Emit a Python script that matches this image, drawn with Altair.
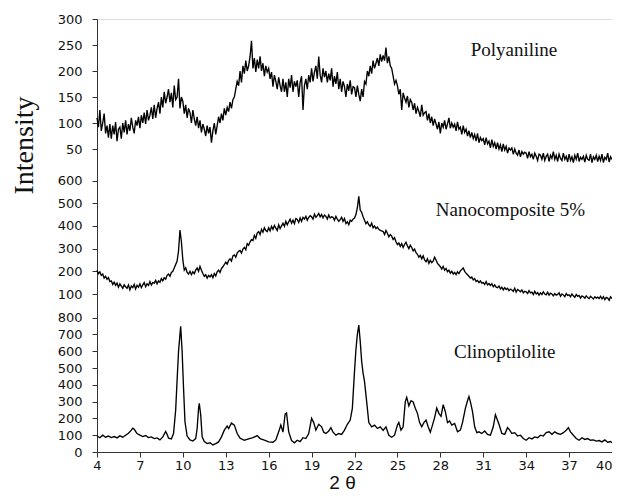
import altair as alt
import pandas as pd

# ---------------- data ----------------
# Polyaniline and Nanocomposite scans: 2theta = 4.0, 4.1, ... 40.0 (step 0.1)
poly_vals = [
    110, 92, 125, 85, 100, 118, 80, 95, 72, 98,    # 4.x
    70, 95, 78, 102, 65, 88, 92, 70, 100, 82,      # 5.x
    105, 78, 98, 85, 110, 92, 80, 105, 95, 112,    # 6.x
    90, 115, 100, 120, 98, 125, 105, 115, 130, 108,  # 7.x
    135, 110, 128, 140, 118, 150, 130, 160, 138, 150,  # 8.x
    165, 140, 158, 130, 172, 145, 150, 185, 128, 150,  # 9.x
    142, 118, 135, 110, 128, 120, 100, 125, 108, 95,   # 10.x
    112, 90, 105, 82, 98, 88, 75, 95, 80, 92,          # 11.x
    62, 85, 100, 78, 95, 112, 100, 118, 105, 128,      # 12.x
    115, 130, 122, 140, 128, 145, 150, 165, 180, 172,  # 13.x
    200, 178, 210, 195, 220, 200, 210, 228, 258, 205,  # 14.x
    225, 198, 222, 205, 228, 200, 215, 190, 210, 198,  # 15.x
    205, 185, 198, 170, 192, 180, 165, 188, 172, 160,  # 16.x
    185, 160, 178, 150, 185, 168, 192, 160, 180, 170,  # 17.x
    182, 150, 178, 190, 125, 172, 185, 165, 192, 178,  # 18.x
    205, 180, 198, 210, 185, 228, 192, 178, 205, 188,  # 19.x
    200, 178, 195, 182, 205, 170, 190, 175, 198, 165,  # 20.x
    185, 160, 180, 170, 150, 175, 162, 182, 155, 170,  # 21.x
    168, 150, 172, 155, 142, 165, 150, 180, 175, 200,  # 22.x
    190, 210, 195, 220, 205, 215, 225, 210, 232, 218,  # 23.x
    230, 220, 245, 215, 228, 210, 205, 190, 175, 182,  # 24.x
    172, 155, 165, 125, 158, 148, 140, 152, 130, 145,  # 25.x
    140, 125, 138, 118, 130, 122, 112, 135, 115, 120,  # 26.x
    122, 105, 118, 100, 112, 95, 108, 98, 88, 102,     # 27.x
    80, 100, 92, 105, 88, 98, 110, 90, 100, 92,        # 28.x
    98, 85, 102, 88, 92, 78, 95, 82, 88, 75,           # 29.x
    85, 72, 82, 70, 78, 65, 80, 62, 72, 66,            # 30.x
    70, 58, 72, 60, 65, 52, 68, 55, 62, 50,            # 31.x
    62, 50, 58, 45, 60, 48, 55, 42, 52, 48,            # 32.x
    52, 40, 50, 42, 38, 48, 35, 45, 40, 44,            # 33.x
    42, 32, 45, 35, 40, 30, 42, 36, 28, 40,            # 34.x
    38, 30, 42, 28, 36, 40, 26, 38, 32, 45,            # 35.x
    30, 38, 26, 40, 32, 28, 42, 30, 36, 25,            # 36.x
    40, 28, 35, 24, 38, 30, 42, 26, 34, 30,            # 37.x
    36, 25, 38, 30, 28, 40, 24, 35, 30, 38,            # 38.x
    26, 36, 28, 40, 24, 34, 30, 42, 25, 35,            # 39.x
    30,                                                # 40.0
]

nano_vals = [
    205, 190, 198, 182, 188, 170, 178, 165, 172, 155,  # 4.x
    158, 142, 152, 138, 148, 130, 145, 135, 125, 140,  # 5.x
    132, 125, 140, 118, 135, 128, 142, 122, 138, 130,  # 6.x
    145, 128, 140, 150, 132, 145, 138, 155, 140, 150,  # 7.x
    148, 160, 145, 158, 152, 168, 158, 172, 165, 182,  # 8.x
    188, 178, 195, 200, 215, 230, 245, 290, 382, 330,  # 9.x
    250, 205, 215, 195, 188, 200, 185, 198, 190, 205,  # 10.x
    215, 200, 222, 205, 190, 178, 185, 170, 182, 175,  # 11.x
    185, 172, 190, 180, 198, 205, 195, 212, 220, 230,  # 12.x
    240, 232, 248, 255, 245, 268, 272, 262, 280, 288,  # 13.x
    292, 280, 298, 305, 295, 322, 315, 330, 340, 335,  # 14.x
    358, 345, 368, 375, 362, 385, 372, 392, 380, 375,  # 15.x
    392, 378, 398, 385, 402, 390, 380, 405, 388, 400,  # 16.x
    412, 398, 420, 405, 418, 430, 412, 425, 410, 432,  # 17.x
    428, 415, 435, 420, 438, 430, 442, 425, 438, 445,  # 18.x
    440, 430, 452, 438, 445, 455, 440, 450, 435, 448,  # 19.x
    442, 430, 448, 435, 440, 438, 425, 442, 430, 420,  # 20.x
    428, 438, 420, 432, 410, 418, 405, 425, 420, 430,  # 21.x
    435, 450, 480, 530, 470, 460, 440, 425, 410, 418,  # 22.x
    405, 398, 412, 392, 400, 388, 395, 385, 380, 378,  # 23.x
    375, 362, 380, 368, 352, 362, 355, 340, 348, 330,  # 24.x
    318, 325, 310, 322, 305, 318, 328, 312, 300, 315,  # 25.x
    305, 290, 298, 282, 275, 262, 270, 255, 268, 250,  # 26.x
    242, 255, 235, 248, 238, 245, 262, 250, 235, 228,  # 27.x
    220, 210, 222, 205, 212, 198, 205, 192, 200, 188,  # 28.x
    195, 185, 198, 190, 202, 208, 215, 200, 192, 185,  # 29.x
    178, 170, 175, 162, 168, 155, 160, 150, 158, 148,  # 30.x
    150, 142, 155, 140, 146, 138, 145, 132, 140, 130,  # 31.x
    128, 135, 122, 130, 118, 128, 120, 125, 115, 122,  # 32.x
    118, 112, 125, 108, 120, 115, 110, 118, 105, 112,  # 33.x
    110, 102, 115, 105, 108, 98, 112, 100, 106, 95,    # 34.x
    105, 98, 110, 100, 96, 108, 95, 104, 100, 92,      # 35.x
    102, 95, 98, 105, 90, 100, 96, 88, 102, 94,        # 36.x
    96, 88, 100, 92, 85, 98, 90, 94, 82, 92,           # 37.x
    88, 82, 92, 85, 80, 90, 84, 78, 88, 82,            # 38.x
    86, 80, 90, 78, 88, 75, 85, 82, 72, 88,            # 39.x
    80,                                                # 40.0
]

clino_x = [
    4.0, 4.2, 4.4, 4.6, 4.8, 5.0, 5.2, 5.4, 5.6, 5.8, 6.0, 6.2, 6.4, 6.5, 6.6, 6.8,
    7.0, 7.2, 7.4, 7.6, 7.8, 8.0, 8.2, 8.4, 8.6, 8.8, 8.9, 9.0, 9.2, 9.35, 9.5, 9.6,
    9.7, 9.8, 9.85, 9.95, 10.05, 10.15, 10.3, 10.5, 10.7, 10.9, 11.0, 11.1, 11.15,
    11.25, 11.35, 11.5, 11.7, 11.9, 12.1, 12.3, 12.5, 12.7, 12.9, 13.1, 13.2, 13.4,
    13.6, 13.8, 14.0, 14.3, 14.6, 14.9, 15.2, 15.4, 15.7, 16.0, 16.3, 16.5, 16.7,
    16.85, 17.0, 17.15, 17.25, 17.4, 17.6, 17.8, 18.0, 18.2, 18.4, 18.6, 18.8, 19.0,
    19.15, 19.3, 19.5, 19.7, 19.85, 20.0, 20.2, 20.35, 20.5, 20.7, 20.9, 21.1, 21.3,
    21.5, 21.7, 21.85, 22.0, 22.1, 22.2, 22.3, 22.4, 22.5, 22.6, 22.7, 22.85, 23.0,
    23.2, 23.4, 23.6, 23.8, 24.0, 24.2, 24.4, 24.6, 24.8, 25.0, 25.1, 25.25, 25.4,
    25.55, 25.65, 25.8, 25.95, 26.1, 26.25, 26.4, 26.55, 26.7, 26.85, 27.0, 27.15,
    27.3, 27.45, 27.6, 27.75, 27.9, 28.05, 28.2, 28.35, 28.5, 28.65, 28.8, 29.0,
    29.2, 29.4, 29.55, 29.75, 29.9, 30.0, 30.1, 30.25, 30.4, 30.55, 30.7, 30.9,
    31.1, 31.3, 31.5, 31.7, 31.85, 31.95, 32.1, 32.3, 32.5, 32.7, 32.85, 33.0, 33.2,
    33.4, 33.6, 33.8, 34.0, 34.2, 34.4, 34.6, 34.8, 35.0, 35.2, 35.4, 35.6, 35.8,
    36.0, 36.2, 36.4, 36.6, 36.8, 36.95, 37.1, 37.3, 37.5, 37.7, 37.9, 38.1, 38.3,
    38.5, 38.7, 38.9, 39.1, 39.3, 39.5, 39.7, 39.9, 40.0,
]
clino_y = [
    95, 85, 100, 88, 95, 86, 92, 84, 96, 88, 100, 112, 130, 142, 135, 110,
    100, 92, 98, 86, 90, 80, 84, 72, 90, 122, 105, 82, 78, 110, 250, 430,
    600, 700, 748, 600, 380, 180, 95, 72, 65, 80, 140, 260, 290,
    220, 90, 62, 50, 55, 42, 50, 60, 90, 130, 155, 140, 172,
    160, 110, 82, 70, 78, 85, 98, 80, 70, 60, 58, 72, 120,
    160, 118, 225, 232, 120, 68, 55, 70, 62, 85, 80, 110, 200,
    175, 130, 165, 150, 118, 110, 125, 145, 118, 100, 110, 105, 130,
    165, 190, 260, 480, 610, 700, 755, 660, 540, 470, 420, 300, 175,
    150, 160, 140, 150, 128, 150, 100, 88, 100, 160, 175, 130, 150,
    300, 325, 275, 305, 298, 260, 230, 175, 150, 175, 190, 150,
    118, 160, 205, 262, 230, 212, 282, 240, 175, 185, 160, 170,
    120, 130, 175, 260, 305, 330, 300, 240, 150, 115, 120, 110,
    125, 105, 100, 150, 222, 200, 165, 110, 105, 145, 130, 110, 115,
    95, 100, 80, 70, 85, 78, 90, 85, 100, 95, 115, 120, 105,
    120, 110, 105, 115, 130, 145, 120, 100, 80, 70, 85, 75, 80,
    70, 72, 65, 68, 60, 72, 58, 62, 55,
]

x_ticks = [4, 7, 10, 13, 16, 19, 22, 25, 28, 31, 34, 37, 40]
clino_ticks = [0, 100, 200, 300, 400, 500, 600, 700, 800]
nano_ticks = [100, 200, 300, 400, 500, 600]
poly_ticks = [50, 100, 150, 200, 250, 300]

labels = ["Polyaniline", "Nanocomposite 5%", "Clinoptilolite"]
label_x = [33.15, 32.9, 32.5]
label_value = [240, 470, 595]

# ---------------- layout of the three stacked panels ----------------
# series -> (plot position of base value, plot units per intensity unit, base value)
PANELS = {
    "Clinoptilolite": (0.0, 0.168, 0),
    "Nanocomposite 5%": (158.0, 0.227, 100),
    "Polyaniline": (303.0, 0.52, 50),
}
PLOT_W = 515
PLOT_H = 433


def pos_expr():
    parts = []
    for name, (off, k, base) in PANELS.items():
        parts.append(f"datum.series === '{name}' ? {off} + (datum.value - {base}) * {k}")
    return " : ".join(parts) + " : 0"


grid_x = [round(4.0 + 0.1 * i, 1) for i in range(361)]

rows = []
for x, v in zip(grid_x, poly_vals):
    rows.append({"x": x, "value": v, "series": "Polyaniline"})
for x, v in zip(grid_x, nano_vals):
    rows.append({"x": x, "value": v, "series": "Nanocomposite 5%"})
for x, v in zip(clino_x, clino_y):
    rows.append({"x": x, "value": v, "series": "Clinoptilolite"})
df = pd.DataFrame(rows)

ann = pd.DataFrame({"label": labels, "x": label_x, "value": label_value, "series": labels})

tick_pos = []
for name, ticks in [("Clinoptilolite", clino_ticks), ("Nanocomposite 5%", nano_ticks), ("Polyaniline", poly_ticks)]:
    off, k, base = PANELS[name]
    tick_pos += [round(off + (t - base) * k, 3) for t in ticks]

label_expr = (
    "datum.value < 150 ? format(datum.value / 0.168, '.0f') : "
    "datum.value < 290 ? format(100 + (datum.value - 158) / 0.227, '.0f') : "
    "format(50 + (datum.value - 303) / 0.52, '.0f')"
)

x_enc = alt.X(
    "x:Q",
    scale=alt.Scale(domain=[4, 40], nice=False, zero=False),
    axis=alt.Axis(
        values=x_ticks, title="2 θ", grid=False, tickSize=5, labelPadding=2,
        labelFont="DejaVu Sans", labelFontSize=13, labelColor="#111",
        labelOverlap=False, labelFlush=False,
        labelAlign=alt.condition("datum.value == 40", alt.value("right"), alt.value("center")),
        titleFont="Liberation Sans", titleFontSize=19, titleFontWeight="normal",
        titleColor="#111", titlePadding=1, titleX=245,
        domainColor="#333", tickColor="#333",
    ),
)
y_enc = alt.Y(
    "pos:Q",
    scale=alt.Scale(domain=[0, PLOT_H], nice=False, zero=False),
    axis=alt.Axis(
        values=tick_pos, labelExpr=label_expr, title="Intensity", grid=False,
        tickSize=5, labelPadding=10, labelOverlap=False, labelFlush=False,
        labelFont="DejaVu Sans", labelFontSize=13, labelColor="#111",
        titleFont="Liberation Serif", titleFontSize=28, titleFontWeight="normal",
        titleColor="#111", titleX=-65, titleY=126, titleBaseline="alphabetic",
        domainColor="#333", tickColor="#333",
    ),
)

lines = (
    alt.Chart(df)
    .transform_calculate(pos=pos_expr())
    .mark_line(color="black", strokeWidth=1.35)
    .encode(x=x_enc, y=y_enc, detail="series:N", order="x:Q")
)

texts = (
    alt.Chart(ann)
    .transform_calculate(pos=pos_expr())
    .mark_text(font="Liberation Serif", fontSize=19, color="#111", align="center", baseline="middle")
    .encode(x=x_enc, y=y_enc, text="label:N")
)

chart = (
    alt.layer(lines, texts)
    .properties(
        width=PLOT_W, height=PLOT_H,
        autosize=alt.AutoSizeParams(type="none"),
        padding={"left": 89, "top": 11, "right": 0, "bottom": 39},
    )
    .configure_view(stroke="#444", strokeWidth=1)
    .configure_axis(labelOverlap=False)
    .configure(background="white")
)

chart.save("out.html", embed_options={"renderer": "svg", "actions": False})
